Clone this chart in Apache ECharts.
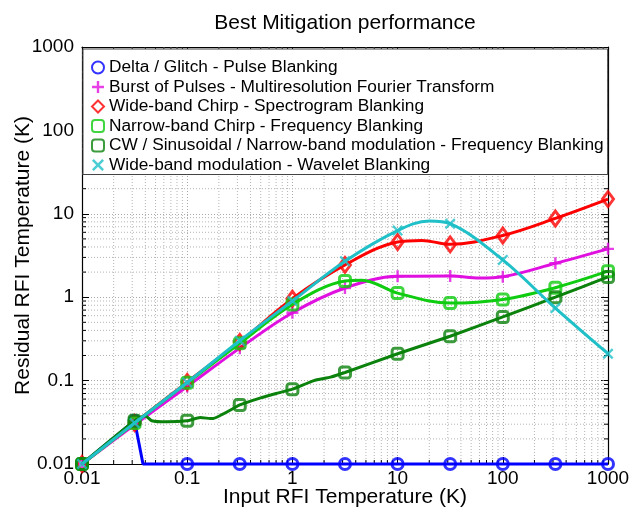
<!DOCTYPE html>
<html>
<head>
<meta charset="utf-8">
<script src="https://cdn.jsdelivr.net/npm/echarts/dist/echarts.min.js"></script>
<style>
  html, body { margin: 0; padding: 0; background: #fff; }
  #chart { width: 630px; height: 507px; }
</style>
</head>
<body>
<div id="chart"></div>
<script>
// Input RFI temperature (K) at which each method was evaluated
const inputTemps = [0.01, 0.0316, 0.1, 0.316, 1, 3.16, 10, 31.6, 100, 316, 1000];

// Residual RFI temperature (K) after the best mitigation, one list per RFI type
const deltaResidual      = [0.01, 0.033, 0.01, 0.01, 0.01, 0.01, 0.01, 0.01, 0.01, 0.01, 0.01];
const burstResidual      = [0.01, 0.0295, 0.085, 0.245, 0.65, 1.29, 1.78, 1.8, 1.76, 2.55, 3.8];
const wideChirpResidual  = [0.01, 0.031, 0.096, 0.29, 0.96, 2.44, 4.6, 4.3, 5.5, 8.8, 15];
const narrowChirpResidual= [0.01, 0.031, 0.094, 0.28, 0.82, 1.56, 1.12, 0.85, 0.94, 1.3, 2.05];
const cwResidual         = [0.01, 0.033, 0.033, 0.051, 0.079, 0.125, 0.21, 0.34, 0.58, 1.0, 1.75];
const wavResidual        = [0.01, 0.031, 0.095, 0.3, 0.9, 2.7, 6.3, 7.6, 2.8, 0.74, 0.21];

// Curve samples between the evaluation points, as [input, residual]
const deltaBetween       = [[0.038, 0.01]];
const burstBetween       = [[60, 1.7]];
const wideChirpBetween   = [[17, 4.8]];
const narrowChirpBetween = [[4.6, 1.6]];
const cwBetween          = [[0.04, 0.038], [0.046, 0.033], [0.064, 0.032], [0.133, 0.036], [0.173, 0.035],
                            [0.5, 0.062], [0.7, 0.07], [1.6, 0.1], [2.3, 0.11]];
const wavBetween         = [[20, 8.2]];

// Axis labels
const tickLabels = ['0.01', '0.1', '1', '10', '100', '1000'];
const seriesNames = [
  'Delta / Glitch - Pulse Blanking',
  'Burst of Pulses - Multiresolution Fourier Transform',
  'Wide-band Chirp - Spectrogram Blanking',
  'Narrow-band Chirp - Frequency Blanking',
  'CW / Sinusoidal / Narrow-band modulation - Frequency Blanking',
  'Wide-band modulation - Wavelet Blanking'
];

const FONT = '"Liberation Sans", Arial, Helvetica, sans-serif';

function labelFor(v) {
  const idx = Math.round(Math.log10(v)) + 2;
  return tickLabels[idx] !== undefined ? tickLabels[idx] : '';
}

function mergeCurve(ys, between) {
  const pts = inputTemps.map((x, i) => [x, ys[i]]).concat(between);
  pts.sort((a, b) => a[0] - b[0]);
  return pts;
}

// symbol shapes
const plusPath = 'path://M4,0h2v4h4v2h-4v4h-2v-4h-4v-2h4z';
const crossPath = 'path://M1.5,0L5,3.5L8.5,0L10,1.5L6.5,5L10,8.5L8.5,10L5,6.5L1.5,10L0,8.5L3.5,5L0,1.5z';

const styles = [
  { color: '#0000ff', symbol: 'circle', size: 11, hollow: true, smooth: false },
  { color: '#e010e0', symbol: plusPath, size: 12, hollow: false, smooth: 0.35 },
  { color: '#ff0000', symbol: 'diamond', size: [11, 15], hollow: true, smooth: 0.35 },
  { color: '#10cc10', symbol: 'roundRect', size: 11, hollow: true, smooth: 0.35 },
  { color: '#0b820b', symbol: 'roundRect', size: 11, hollow: true, smooth: 0.15 },
  { color: '#1fc0c8', symbol: crossPath, size: 11, hollow: false, smooth: 0.35 }
];

const residuals = [deltaResidual, burstResidual, wideChirpResidual, narrowChirpResidual, cwResidual, wavResidual];
const betweens = [deltaBetween, burstBetween, wideChirpBetween, narrowChirpBetween, cwBetween, wavBetween];

// minor grid positions 2..9 x 10^k
const minorVals = [];
for (let k = -2; k <= 2; k++) {
  for (let m = 2; m <= 9; m++) minorVals.push(m * Math.pow(10, k));
}

const series = [];

series.push({
  type: 'custom',
  name: 'minor-grid',
  coordinateSystem: 'cartesian2d',
  silent: true,
  z: 1,
  clip: false,
  data: minorVals.map(v => [v, v]),
  encode: { x: 0, y: 1 },
  renderItem: function (params, api) {
    const v = api.value(0);
    const cs = params.coordSys;
    const px = api.coord([v, 1])[0];
    const py = api.coord([1, v])[1];
    const grid = { stroke: '#b4b4b4', lineWidth: 1, lineDash: [1, 2], fill: null };
    const tick = { stroke: '#000', lineWidth: 1, fill: null };
    const t = 4;
    const L = cs.x, R = cs.x + cs.width, T = cs.y, B = cs.y + cs.height;
    return {
      type: 'group',
      children: [
        { type: 'line', shape: { x1: px, y1: T, x2: px, y2: B }, style: grid },
        { type: 'line', shape: { x1: L, y1: py, x2: R, y2: py }, style: grid },
        { type: 'line', shape: { x1: px, y1: B, x2: px, y2: B - t }, style: tick },
        { type: 'line', shape: { x1: px, y1: T, x2: px, y2: T + t }, style: tick },
        { type: 'line', shape: { x1: L, y1: py, x2: L + t, y2: py }, style: tick },
        { type: 'line', shape: { x1: R, y1: py, x2: R - t, y2: py }, style: tick }
      ]
    };
  }
});

residuals.forEach((ys, i) => {
  const st = styles[i];
  series.push({
    type: 'line',
    name: seriesNames[i] + ' curve',
    data: mergeCurve(ys, betweens[i]),
    showSymbol: false,
    symbol: 'none',
    smooth: st.smooth,
    clip: false,
    silent: true,
    z: 3 + i * 2,
    lineStyle: { color: st.color, width: 3 },
    itemStyle: { color: st.color }
  });
  series.push({
    type: 'scatter',
    name: seriesNames[i],
    data: inputTemps.map((x, j) => [x, ys[j]]),
    symbol: st.symbol,
    symbolSize: st.size,
    clip: false,
    z: 4 + i * 2,
    itemStyle: st.hollow
      ? { color: 'rgba(255,255,255,0)', borderColor: st.color, borderWidth: 3 }
      : { color: st.color }
  });
});

const baseAxis = {
  type: 'log',
  logBase: 10,
  min: 0.01,
  max: 1000,
  axisLine: { show: true, lineStyle: { color: '#000', width: 1.2 } },
  axisTick: { show: true, inside: true, length: 7, lineStyle: { color: '#000' } },
  minorTick: { show: false },
};

const chart = echarts.init(document.getElementById('chart'), null, { renderer: 'canvas' });
chart.setOption({
  animation: false,
  backgroundColor: '#fff',
  title: {
    text: 'Best Mitigation performance',
    left: 340,
    top: 8,
    textAlign: 'center',
    textStyle: { fontFamily: FONT, fontSize: 21, fontWeight: 'normal', color: '#000' }
  },
  grid: { left: 82, right: 22, top: 47, bottom: 43, show: false, outerBoundsMode: 'none', containLabel: false },
  legend: {
    data: seriesNames,
    orient: 'vertical',
    left: 83,
    top: 49,
    padding: [10, 4, 1, 8],
    itemGap: 2.5,
    itemWidth: 12,
    itemHeight: 12,
    backgroundColor: '#fff',
    borderColor: '#444',
    borderWidth: 1,
    selectedMode: false,
    textStyle: { fontFamily: FONT, fontSize: 17.3, color: '#000', lineHeight: 17 }
  },
  xAxis: [
    Object.assign({}, baseAxis, {
      position: 'bottom',
      name: 'Input RFI Temperature (K)',
      nameLocation: 'middle',
      nameGap: 23,
      nameMoveOverlap: false,
      nameTextStyle: { fontFamily: FONT, fontSize: 21, color: '#000' },
      axisLabel: { fontFamily: FONT, fontSize: 19, color: '#000', margin: 5, formatter: labelFor },
      splitLine: { show: true, lineStyle: { color: '#a8a8a8', type: [1, 2], width: 1 } }
    }),
    Object.assign({}, baseAxis, {
      position: 'top',
      axisLabel: { show: false },
      splitLine: { show: false }
    })
  ],
  yAxis: [
    Object.assign({}, baseAxis, {
      position: 'left',
      name: 'Residual RFI Temperature (K)',
      nameLocation: 'middle',
      nameGap: 48,
      nameMoveOverlap: false,
      nameTextStyle: { fontFamily: FONT, fontSize: 21, color: '#000' },
      axisLabel: { fontFamily: FONT, fontSize: 19, color: '#000', margin: 8, formatter: labelFor },
      splitLine: { show: true, lineStyle: { color: '#a8a8a8', type: [1, 2], width: 1 } }
    }),
    Object.assign({}, baseAxis, {
      position: 'right',
      axisLabel: { show: false },
      splitLine: { show: false }
    })
  ],
  series: series
});
</script>
</body>
</html>
